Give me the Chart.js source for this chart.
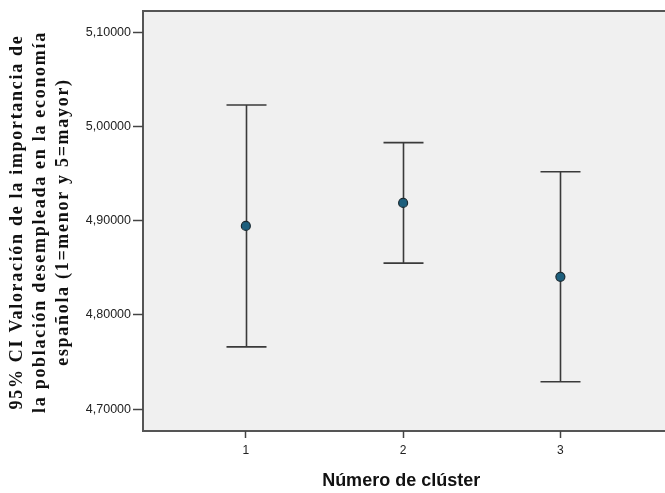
<!DOCTYPE html>
<html>
<head>
<meta charset="utf-8">
<script src="https://cdn.jsdelivr.net/npm/chart.js@4/dist/chart.umd.min.js"></script>
<style>
  html, body { margin: 0; padding: 0; background: #ffffff; overflow: hidden; }
  #wrap { width: 665px; height: 493px; position: relative; }
</style>
</head>
<body>
<div id="wrap"><canvas id="c" width="665" height="493"></canvas></div>
<script>
// Cluster numbers and 95% confidence intervals of the mean rating
const clusters = [1, 2, 3];
const means = [4.8945, 4.9190, 4.8405];
const lowerCI = [4.7660, 4.8550, 4.7290];
const upperCI = [5.0230, 4.9830, 4.9520];
const yTicks = [4.70, 4.80, 4.90, 5.00, 5.10];

const yTitle = [
  '95% CI Valoración de la importancia de',
  'la población desempleada en la economía',
  'española (1=menor y 5=mayor)'
];
const xTitle = 'Número de clúster';

// Plot panel: grey fill running to the right edge, dark frame on left, top and bottom
const panelPlugin = {
  id: 'panel',
  beforeDraw(chart) {
    const { ctx, chartArea: a } = chart;
    const right = chart.width;
    ctx.save();
    ctx.fillStyle = '#f0f0f0';
    ctx.fillRect(a.left, a.top, right - a.left, a.bottom - a.top);
    ctx.strokeStyle = '#555555';
    ctx.lineWidth = 2;
    ctx.beginPath();
    ctx.moveTo(right + 2, a.top);
    ctx.lineTo(a.left, a.top);
    ctx.lineTo(a.left, a.bottom);
    ctx.lineTo(right + 2, a.bottom);
    ctx.stroke();
    ctx.restore();
  }
};

// Whiskers with end caps, placed through the chart's own scales
const errorBarPlugin = {
  id: 'errorBars',
  beforeDatasetsDraw(chart) {
    const { ctx, scales: { x, y } } = chart;
    const capHalf = 20;
    ctx.save();
    ctx.strokeStyle = '#3a3a3a';
    ctx.lineWidth = 1.6;
    clusters.forEach((c, i) => {
      const px = Math.round(x.getPixelForValue(c)) + 0.5;
      const yLo = y.getPixelForValue(lowerCI[i]);
      const yHi = y.getPixelForValue(upperCI[i]);
      ctx.beginPath();
      ctx.moveTo(px, yHi);
      ctx.lineTo(px, yLo);
      ctx.moveTo(px - capHalf, yHi);
      ctx.lineTo(px + capHalf, yHi);
      ctx.moveTo(px - capHalf, yLo);
      ctx.lineTo(px + capHalf, yLo);
      ctx.stroke();
    });
    ctx.restore();
  }
};

// Rotated three-line serif title for the value axis, with wide tracking
const yTitlePlugin = {
  id: 'yTitle',
  afterDraw(chart) {
    const { ctx, chartArea: a } = chart;
    const cy = (a.top + a.bottom) / 2 + 1;
    const lineGap = 23;
    ctx.save();
    ctx.fillStyle = '#111111';
    ctx.font = 'bold 18px "Liberation Serif", "Times New Roman", serif';
    if ('letterSpacing' in ctx) ctx.letterSpacing = '1.7px';
    ctx.textAlign = 'center';
    ctx.textBaseline = 'middle';
    yTitle.forEach((line, i) => {
      ctx.save();
      ctx.translate(17 + i * lineGap, cy);
      ctx.rotate(-Math.PI / 2);
      ctx.fillText(line, 0, 0);
      ctx.restore();
    });
    ctx.restore();
  }
};

new Chart(document.getElementById('c'), {
  type: 'scatter',
  data: {
    datasets: [{
      data: clusters.map((c, i) => ({ x: c, y: means[i] })),
      pointRadius: 4.5,
      pointHoverRadius: 4.5,
      pointBackgroundColor: '#1d5f7d',
      pointBorderColor: '#1b2b33',
      pointBorderWidth: 1.2,
      showLine: false
    }]
  },
  options: {
    responsive: false,
    animation: false,
    events: [],
    layout: { padding: { top: 11, right: 0, bottom: 0, left: 0 } },
    plugins: {
      legend: { display: false },
      tooltip: { enabled: false }
    },
    scales: {
      x: {
        type: 'linear',
        min: 0.346,
        max: 3.629,
        afterBuildTicks(scale) { scale.ticks = clusters.map(v => ({ value: v })); },
        afterFit(scale) { scale.height = 62; },
        border: { display: false },
        grid: {
          drawOnChartArea: false,
          drawTicks: true,
          tickLength: 7,
          tickWidth: 1.5,
          tickColor: '#444444'
        },
        ticks: {
          padding: 5,
          color: '#222222',
          font: { family: 'Liberation Sans, Arial, sans-serif', size: 12 },
          callback: v => String(v)
        },
        title: {
          display: true,
          text: xTitle,
          color: '#111111',
          font: { family: 'Liberation Sans, Arial, sans-serif', size: 18, weight: 'bold' },
          padding: { top: 0, bottom: 1 }
        }
      },
      y: {
        type: 'linear',
        min: 4.6767,
        max: 5.1228,
        afterBuildTicks(scale) { scale.ticks = yTicks.map(v => ({ value: v })); },
        afterFit(scale) { scale.width = 143; },
        border: { display: false },
        grid: {
          drawOnChartArea: false,
          drawTicks: true,
          tickLength: 10,
          tickWidth: 1.5,
          tickColor: '#444444'
        },
        ticks: {
          padding: 2,
          color: '#222222',
          font: { family: 'Liberation Sans, Arial, sans-serif', size: 12.5 },
          callback: v => Number(v).toFixed(5).replace('.', ',')
        },
        title: { display: false }
      }
    }
  },
  plugins: [panelPlugin, errorBarPlugin, yTitlePlugin]
});
</script>
</body>
</html>
